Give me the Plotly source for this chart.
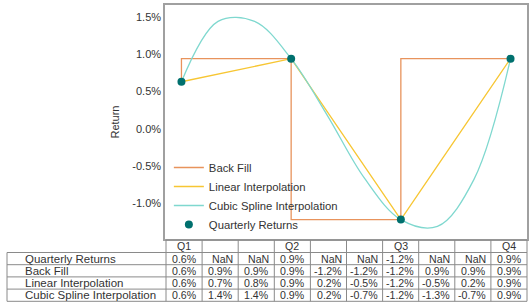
import plotly.graph_objects as go

positions = list(range(10))
col_labels = ["Q1", "", "", "Q2", "", "", "Q3", "", "", "Q4"]
quarterly = [0.63, None, None, 0.94, None, None, -1.22, None, None, 0.94]
back_fill = [0.63, 0.94, 0.94, 0.94, -1.22, -1.22, -1.22, 0.94, 0.94, 0.94]
linear = [0.63, 0.73, 0.84, 0.94, 0.22, -0.50, -1.22, -0.50, 0.22, 0.94]
cubic = [0.63, 1.44, 1.44, 0.94, 0.17, -0.66, -1.22, -1.31, -0.68, 0.94]
row_labels = ["Quarterly Returns", "Back Fill", "Linear Interpolation", "Cubic Spline Interpolation"]
y_ticks = [-1.0, -0.5, 0.0, 0.5, 1.0, 1.5]
y_ticktext = ["-1.0%", "-0.5%", "0.0%", "0.5%", "1.0%", "1.5%"]

C_BF = "#E8935C"
C_LI = "#F7C633"
C_CS = "#7FD8CF"
C_QR = "#00706E"
FONT = "Liberation Sans, Arial, sans-serif"
TXT = "#333333"
BORDER = "#8a8a8a"

W, H = 531, 306
ax_l, ax_r, ax_t, ax_b = 165, 527, 5, 239

fig = go.Figure()
fig.add_trace(go.Scatter(x=positions, y=back_fill, mode="lines", name="Back Fill",
                         line=dict(color=C_BF, width=1.3, shape="vh")))
fig.add_trace(go.Scatter(x=positions, y=linear, mode="lines", name="Linear Interpolation",
                         line=dict(color=C_LI, width=1.3)))
fig.add_trace(go.Scatter(x=positions, y=cubic, mode="lines", name="Cubic Spline Interpolation",
                         line=dict(color=C_CS, width=1.3, shape="spline", smoothing=1.0)))
fig.add_trace(go.Scatter(x=positions, y=quarterly, mode="markers", name="Quarterly Returns",
                         marker=dict(color=C_QR, size=8)))


def fmt(v):
    return "NaN" if v is None else f"{v:.1f}%"


series = [quarterly, back_fill, linear, cubic]

# ---- table drawn with shapes + annotations (pixel layout -> paper coords)
tab_l = 7
lab_w = 159
col_w = (ax_r - (tab_l + lab_w)) / 10
row_edges = [240, 252.5, 264.7, 276.9, 289.1, 301.3]
col_edges = [tab_l + lab_w + i * col_w for i in range(11)]


def px(x):
    return x / W


def py(y):
    return 1 - y / H


shapes = []
line = dict(color=BORDER, width=1)
for j, y in enumerate(row_edges):
    x0 = col_edges[0] if j == 0 else tab_l
    shapes.append(dict(type="line", xref="paper", yref="paper",
                       x0=px(x0), x1=px(ax_r), y0=py(y), y1=py(y), line=line))
shapes.append(dict(type="line", xref="paper", yref="paper",
                   x0=px(tab_l), x1=px(tab_l), y0=py(row_edges[1]), y1=py(row_edges[-1]), line=line))
for x in col_edges:
    shapes.append(dict(type="line", xref="paper", yref="paper",
                       x0=px(x), x1=px(x), y0=py(row_edges[0]), y1=py(row_edges[-1]), line=line))

annotations = []
vfont = dict(family=FONT, size=10.6, color=TXT)
lfont = dict(family=FONT, size=11.5, color=TXT)
for i, lab in enumerate(col_labels):
    if lab:
        annotations.append(dict(xref="paper", yref="paper", x=px((col_edges[i] + col_edges[i + 1]) / 2),
                                y=py((row_edges[0] + row_edges[1]) / 2), text=lab, showarrow=False,
                                xanchor="center", yanchor="middle", font=vfont))
for r, (lab, s) in enumerate(zip(row_labels, series)):
    yc = py((row_edges[r + 1] + row_edges[r + 2]) / 2)
    annotations.append(dict(xref="paper", yref="paper", x=px(tab_l + 16), y=yc, text=lab,
                            showarrow=False, xanchor="left", yanchor="middle", font=lfont))
    for i in positions:
        annotations.append(dict(xref="paper", yref="paper", x=px(col_edges[i + 1] - 3), y=yc,
                                text=fmt(s[i]), showarrow=False, xanchor="right", yanchor="middle",
                                font=vfont))

fig.update_layout(
    width=W, height=H,
    margin=dict(l=0, r=0, t=0, b=0),
    paper_bgcolor="white", plot_bgcolor="white",
    font=dict(family=FONT, size=11, color=TXT),
    showlegend=True,
    shapes=shapes,
    annotations=annotations,
    legend=dict(x=0.318, y=0.50, xanchor="left", yanchor="top",
                bgcolor="rgba(255,255,255,0)", borderwidth=0,
                font=dict(family=FONT, size=11.3, color=TXT),
                tracegroupgap=0),
    xaxis=dict(domain=[ax_l / W, ax_r / W], range=[-0.45, 9.45],
               showticklabels=False, showgrid=False, zeroline=False, ticks="",
               showline=True, mirror=True, linecolor="#a0a0a0", linewidth=1.5),
    yaxis=dict(domain=[1 - ax_b / H, 1 - ax_t / H], range=[-1.48, 1.66],
               tickmode="array", tickvals=y_ticks, ticktext=y_ticktext,
               showgrid=False, zeroline=False, ticks="",
               showline=True, mirror=True, linecolor="#a0a0a0", linewidth=1.5,
               tickfont=dict(family=FONT, size=11, color=TXT),
               title=dict(text="Return", standoff=10,
                          font=dict(family=FONT, size=11, color=TXT))),
)

fig.write_html("out.html")
